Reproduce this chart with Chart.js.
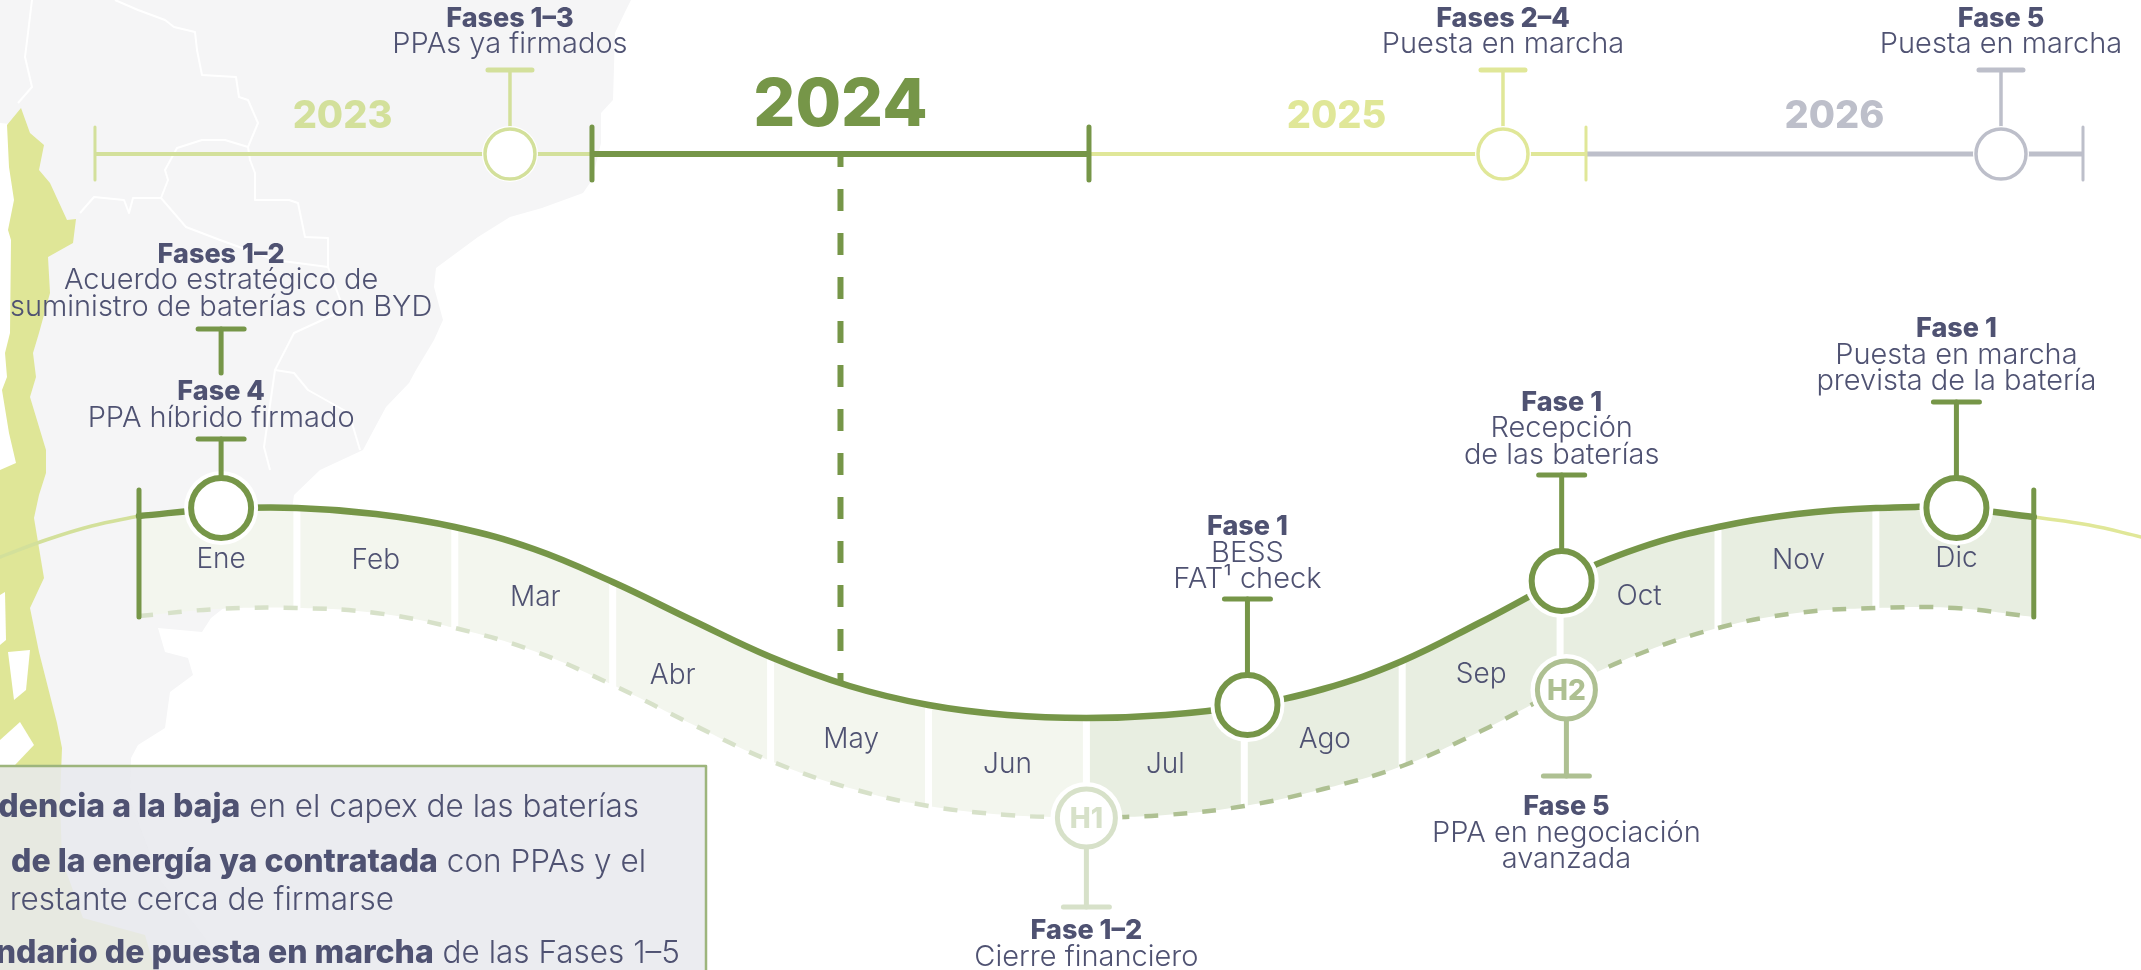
<!DOCTYPE html>
<html><head><meta charset="utf-8">
<script src="https://cdn.jsdelivr.net/npm/chart.js@4"></script>
<style>html,body{margin:0;padding:0;background:#fff;overflow:hidden}canvas{display:block}</style>
</head><body><canvas id="c" width="2141" height="970"></canvas>
<script>
// ---- colours
const GREEN='#769648', DARK='#4f5272', GREEN_H1='#d7e1c9', GREEN_H2='#aec092', LIME23='#d3e09b', LIME25='#e0e798', GREY26='#bdbfca', BAND_H1='#f3f6ee', BAND_H2='#e8eee1';

// ---- 2024 curve, in months since January 2024
const curveMonths=[0,0.5,1,1.5,2,2.5,3,3.5,4,4.5,5,5.5,6,6.5,7,7.5,8,8.5,9,9.5,10,10.5,11,11.5,12];
const curveTop=[516,509,508,514,527,549,582,620,657,686,705,715,718,715,706,689,661,622,581,548,527,514,508,508,517];
const curveBottom=[616,609,608,613,628,651,685,724,761,788,806,815,818,815,806,789,766,731,690,654,628,613,608,608,617];
const leadInMonths=[-0.88,-0.59,-0.3,0], leadInLevel=[557,540,526,516];
const leadOutMonths=[12,12.35,12.68], leadOutLevel=[517,525,537];
const monthNames=['Ene','Feb','Mar','Abr','May','Jun','Jul','Ago','Sep','Oct','Nov','Dic'];
const monthLabelAt=[0.52,1.5,2.51,3.38,4.51,5.5,6.5,7.51,8.5,9.5,10.51,11.51];
const monthLabelLevel=[568,569,606,684,748,773,773,748,683,605,569,567];

// ---- year axis
const years=['2023','2024','2025','2026'];
const yearEdges=[2023,2024,2025,2026,2027];
const yearColors=[LIME23,GREEN,LIME25,GREY26];
const yearWidths=[4,6,4,5];
const yearTickWidths=[3,5,5,3,3];
const yearTickColors=[LIME23,GREEN,GREEN,LIME25,GREY26];
const yearLabelAt=[2023.498,2024.5,2025.498,2026.5];
const axisLevel=154, tickHigh=127, tickLow=180, dropLineEnd=684;

// ---- milestones on the year axis
const yearMilestones=[2023.835,2025.833,2026.835];
const yearMilestoneColors=[LIME23,LIME25,GREY26];
const yearMilestoneTop=70;
const yearMilestoneText=[['Fases 1–3','PPAs ya firmados'],['Fases 2–4','Puesta en marcha'],['Fase 5','Puesta en marcha']];

// ---- milestones on the curve
const curveMilestoneAt=[0.52,7.02,9.01,11.51];
const curveMilestoneLevel=[508,705,581,508];
const curveMilestoneTop=[439,599,475,402];
const curveMilestoneText=[
  [['Fase 4',400],['PPA híbrido firmado',427]],
  [['Fase 1',535],['BESS',562],['FAT¹ check',588]],
  [['Fase 1',411],['Recepción',437],['de las baterías',464]],
  [['Fase 1',337],['Puesta en marcha',364],['prevista de la batería',390]]];
const upperCallText=[['Fases 1–2',263],['Acuerdo estratégico de',289],['suministro de baterías con BYD',316]];
const upperCallAt=0.52, upperCallSpan=[373,329];

// ---- half-year milestones below the curve
const halfNames=['H1','H2'];
const halfAt=[6.0,9.04];
const halfLevel=[818,690];
const halfBar=[907,776];
const halfColors=[GREEN_H1,GREEN_H2];
const halfText=[[['Fase 1–2',939],['Cierre financiero',966]],[['Fase 5',815],['PPA en negociación',842],['avanzada',868]]];

// ---- note box
const noteLines=[
 ['dencia a la baja',' en el capex de las baterías',639,817],
 ['de la energía ya contratada',' con PPAs y el',646,872],
 ['','restante cerca de firmarse',394,910],
 ['endario de puesta en marcha',' de las Fases 1–5',680,963]];

// ---- background map outlines (decoration)
const land=[[0,0],[631,0],[625,12],[615,33],[613,100],[601,113],[601,143],[592,180],[583,193],[542,208],[510,217],[478,237],[436,268],[434,287],[443,320],[434,340],[416,370],[409,383],[386,407],[372,433],[363,450],[320,470],[294,495],[285,560],[211,618],[202,632],[158,628],[165,652],[188,658],[193,675],[170,692],[165,728],[138,745],[131,758],[130,800],[160,880],[230,970],[0,970],[20,700],[20,125],[0,123]];
const chile=[[21,108],[30,133],[44,145],[39,170],[50,183],[67,220],[76,219],[73,243],[48,257],[50,293],[39,333],[33,353],[36,377],[30,397],[46,450],[46,473],[39,495],[34,518],[44,578],[30,608],[39,652],[57,723],[62,748],[60,800],[62,860],[83,918],[145,935],[155,970],[0,970],[0,470],[16,463],[9,433],[2,390],[7,377],[5,353],[10,333],[11,240],[8,230],[14,200],[9,167],[7,125]];
const islands=[[[8,652],[30,650],[26,690],[14,700]],[[0,740],[20,722],[34,745],[15,765],[0,765]],[[0,595],[5,592],[6,640],[0,645]]];
const borders=[
 [[32,0],[28,33],[25,57],[32,87],[18,103]],
 [[115,0],[138,10],[165,20],[174,27],[195,32],[197,50],[202,75],[236,77],[239,97],[248,100],[258,123],[248,147],[250,160],[255,173],[255,200],[289,200],[298,203],[305,237],[328,238],[328,267],[344,310],[294,333],[275,370],[264,447],[270,470]],
 [[248,147],[225,140],[202,140],[177,148],[165,170],[168,180],[161,198],[133,198],[129,213],[124,200],[94,197],[80,213]],
 [[161,198],[186,227],[220,240],[275,260],[328,267]],
 [[275,370],[294,373],[308,390],[349,413],[360,450]]];

// ---- helpers
const pairs=(xs,ys)=>xs.map((x,i)=>({x,y:ys[i]}));
let drawOrder=1000;
const datasets=[];
function add(o){o.order=drawOrder--;o.pointRadius=o.pointRadius??0;o.borderWidth=o.borderWidth??0;o.fill=o.fill??false;o.xAxisID=o.xAxisID??'m';o.yAxisID='y';o.borderCapStyle=o.borderCapStyle??'round';datasets.push(o);return datasets.length-1;}
const lineOpts={tension:0.4};

// bands
[[0,13,BAND_H1],[12,25,BAND_H2]].forEach(([a,b,col])=>{
  const top=pairs(curveMonths.slice(a,b),curveTop.slice(a,b));
  const bot=pairs(curveMonths.slice(a,b),curveBottom.slice(a,b));
  const i=add({data:bot,...lineOpts});
  add({data:top,...lineOpts,fill:{target:i},backgroundColor:col});
});
// white gaps between months
for(let k=2;k<24;k+=2){add({data:[{x:curveMonths[k],y:curveTop[k]},{x:curveMonths[k],y:curveBottom[k]+4}],borderColor:'#fff',borderWidth:7,borderCapStyle:'butt'});}
// dashed lower edge
add({data:pairs(curveMonths.slice(0,13),curveBottom.slice(0,13)),...lineOpts,borderColor:GREEN_H1,borderWidth:4.5,borderDash:[14,15],borderDashOffset:0,borderCapStyle:'butt'});
add({data:pairs(curveMonths.slice(12),curveBottom.slice(12)),...lineOpts,borderColor:GREEN_H2,borderWidth:4.5,borderDash:[14,15],borderCapStyle:'butt'});
// thin lead-in / lead-out
add({data:pairs(leadInMonths,leadInLevel),...lineOpts,borderColor:LIME23,borderWidth:3.5});
add({data:pairs(leadOutMonths,leadOutLevel),...lineOpts,borderColor:LIME25,borderWidth:3.5});
// 2024 dashed drop line
add({xAxisID:'yr',data:[{x:2024.5,y:axisLevel},{x:2024.5,y:dropLineEnd}],borderColor:GREEN,borderWidth:6,borderDash:[22,22],borderDashOffset:9,borderCapStyle:'butt'});
// main curve
add({data:pairs(curveMonths,curveTop),...lineOpts,borderColor:GREEN,borderWidth:6.5});
// curve end ticks
add({data:[{x:0,y:490},{x:0,y:617}],borderColor:GREEN,borderWidth:5});
add({data:[{x:12,y:490},{x:12,y:617}],borderColor:GREEN,borderWidth:5});
// year axis
years.forEach((_,i)=>{add({xAxisID:'yr',data:[{x:yearEdges[i],y:axisLevel},{x:yearEdges[i+1],y:axisLevel}],borderColor:yearColors[i],borderWidth:yearWidths[i],borderCapStyle:'butt'});});
yearEdges.forEach((e,i)=>{add({xAxisID:'yr',data:[{x:e,y:tickHigh},{x:e,y:tickLow}],borderColor:yearTickColors[i],borderWidth:yearTickWidths[i]});});
// year milestones
yearMilestones.forEach((m,i)=>{
  add({xAxisID:'yr',data:[{x:m,y:yearMilestoneTop},{x:m,y:axisLevel}],borderColor:yearMilestoneColors[i],borderWidth:3.5,
    pointStyle:'line',pointRadius:[22,0],pointBorderColor:yearMilestoneColors[i],pointBorderWidth:5});
  add({xAxisID:'yr',data:[{x:m,y:axisLevel}],pointRadius:28,pointBackgroundColor:'#fff',pointBorderWidth:0});
  add({xAxisID:'yr',data:[{x:m,y:axisLevel}],pointRadius:25,pointBorderWidth:3.5,pointBackgroundColor:'#fff',pointBorderColor:yearMilestoneColors[i]});
});
// upper call-out stem
add({data:[{x:upperCallAt,y:upperCallSpan[0]},{x:upperCallAt,y:upperCallSpan[1]}],borderColor:GREEN,borderWidth:5,pointStyle:'line',pointRadius:[0,23],pointBorderColor:GREEN,pointBorderWidth:5});
// half-year milestones
halfAt.forEach((m,i)=>{
  add({data:[{x:m,y:halfLevel[i]}],pointRadius:36,pointBackgroundColor:'#fff',pointBorderWidth:0});
  add({data:[{x:m,y:halfBar[i]},{x:m,y:halfLevel[i]}],borderColor:halfColors[i],borderWidth:5,pointStyle:'line',pointRadius:[23,0],pointBorderColor:halfColors[i],pointBorderWidth:5});
  add({data:[{x:m,y:halfLevel[i]}],pointRadius:29,pointBorderWidth:5,pointBackgroundColor:'#fff',pointBorderColor:halfColors[i]});
});
// curve milestones
add({data:pairs(curveMilestoneAt,curveMilestoneLevel),pointRadius:37,pointBackgroundColor:'#fff',pointBorderWidth:0});
curveMilestoneAt.forEach((m,i)=>{
  add({data:[{x:m,y:curveMilestoneTop[i]},{x:m,y:curveMilestoneLevel[i]}],borderColor:GREEN,borderWidth:5,pointStyle:'line',pointRadius:[23,0],pointBorderColor:GREEN,pointBorderWidth:5});
});
add({data:pairs(curveMilestoneAt,curveMilestoneLevel),pointRadius:30,pointBorderWidth:6,pointBackgroundColor:'#fff',pointBorderColor:GREEN});

// ---- plugin: background + text
const fontReg='300 29px Inter, sans-serif', fontBold='800 27px Inter, sans-serif';
function poly(ctx,p){ctx.beginPath();p.forEach(([x,y],i)=>i?ctx.lineTo(x,y):ctx.moveTo(x,y));}
const backdrop={id:'backdrop',beforeDatasetsDraw(chart){
  const ctx=chart.ctx;ctx.save();
  poly(ctx,land);ctx.closePath();ctx.fillStyle='#f5f5f6';ctx.fill();
  ctx.strokeStyle='#fff';ctx.lineWidth=2;ctx.lineJoin='round';
  borders.forEach(b=>{poly(ctx,b);ctx.stroke();});
  poly(ctx,chile);ctx.closePath();ctx.fillStyle='#dfe697';ctx.fill();
  islands.forEach(s=>{poly(ctx,s);ctx.closePath();ctx.fillStyle='#fff';ctx.fill();});
  // note box
  ctx.fillStyle='rgba(232,233,237,0.86)';ctx.fillRect(-5,766,711,214);
  ctx.strokeStyle='#9db57c';ctx.lineWidth=2.5;ctx.strokeRect(-5,766,711,214);
  ctx.restore();
  ctx.lineCap='round';
},afterDatasetsDraw(chart){
  const ctx=chart.ctx,m=chart.scales.m,yr=chart.scales.yr,y=chart.scales.y;
  ctx.save();ctx.textAlign='center';ctx.textBaseline='alphabetic';
  const T=(s,px,py,font,col)=>{ctx.font=font;ctx.fillStyle=col;ctx.fillText(s,px,py);};
  years.forEach((s,i)=>{
    const big=i===1;
    T(s,yr.getPixelForValue(yearLabelAt[i]),y.getPixelForValue(big?126:128),(big?'800 66px':'800 38px')+' Inter, sans-serif',yearColors[i]);
  });
  yearMilestoneText.forEach((l,i)=>{const px=yr.getPixelForValue(yearMilestones[i]);
    T(l[0],px,y.getPixelForValue(27),fontBold,DARK);T(l[1],px,y.getPixelForValue(53),fontReg,DARK);});
  const block=(ls,px)=>ls.forEach(([s,b],k)=>T(s,px,y.getPixelForValue(b),k?fontReg:fontBold,DARK));
  block(upperCallText,m.getPixelForValue(upperCallAt));
  curveMilestoneText.forEach((ls,i)=>block(ls,m.getPixelForValue(curveMilestoneAt[i])));
  halfText.forEach((ls,i)=>block(ls,m.getPixelForValue(halfAt[i])));
  halfNames.forEach((s,i)=>T(s,m.getPixelForValue(halfAt[i]),y.getPixelForValue(halfLevel[i]+10),'800 28px Inter, sans-serif',halfColors[i]));
  monthNames.forEach((s,i)=>T(s,m.getPixelForValue(monthLabelAt[i]),y.getPixelForValue(monthLabelLevel[i]),'300 28px Inter, sans-serif',DARK));
  ctx.textAlign='right';
  noteLines.forEach(([b,r,end,base])=>{
    T(r,end,base,'300 31.5px Inter, sans-serif',DARK);
    const w=ctx.measureText(r).width;
    if(b)T(b,end-w,base,'800 32px Inter, sans-serif',DARK);
  });
  ctx.restore();
}};

new Chart(document.getElementById('c'),{
  type:'line',
  data:{datasets},
  options:{
    responsive:false,animation:false,events:[],
    layout:{padding:0,autoPadding:false},
    plugins:{legend:{display:false},tooltip:{enabled:false}},
    scales:{
      m:{type:'linear',axis:'x',display:false,min:-0.8803,max:12.679},
      yr:{type:'linear',axis:'x',display:false,min:2022.8089,max:2027.1167},
      y:{type:'linear',axis:'y',display:false,min:0,max:970,reverse:true}
    }
  },
  plugins:[backdrop]
});
</script></body></html>
